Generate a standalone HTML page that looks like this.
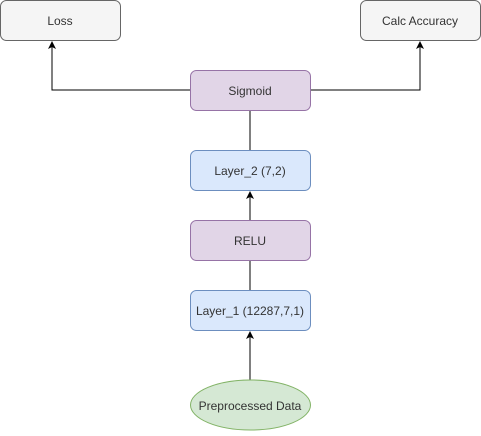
<!DOCTYPE html>
<html><head><style>body{margin:0;background:#fff}</style></head><body>
<svg width="481" height="431" xmlns="http://www.w3.org/2000/svg" font-family="Liberation Sans, sans-serif" font-size="12" text-anchor="middle">
<defs><marker id="a" markerWidth="8" markerHeight="8" refX="7" refY="4" orient="auto" markerUnits="userSpaceOnUse"><path d="M0,0 L8,4 L0,8 L2,4 z" fill="#000"/></marker></defs>
<g stroke="#000" fill="none" stroke-width="1">
<path d="M190 90 H52 V42" marker-end="url(#a)"/>
<path d="M310 90 H420 V42" marker-end="url(#a)"/>
<path d="M250 150 V110"/>
<path d="M250 220 V192" marker-end="url(#a)"/>
<path d="M250 290 V260"/>
<path d="M250 380 V332" marker-end="url(#a)"/>
</g>
<rect x="0.5" y="0.5" width="120" height="40" rx="6" fill="#f5f5f5" stroke="#666"/>
<rect x="360.5" y="0.5" width="120" height="40" rx="6" fill="#f5f5f5" stroke="#666"/>
<rect x="190.5" y="70.5" width="120" height="40" rx="6" fill="#e1d5e7" stroke="#9673a6"/>
<rect x="190.5" y="150.5" width="120" height="40" rx="6" fill="#dae8fc" stroke="#6c8ebf"/>
<rect x="190.5" y="220.5" width="120" height="40" rx="6" fill="#e1d5e7" stroke="#9673a6"/>
<rect x="190.5" y="290.5" width="120" height="40" rx="6" fill="#dae8fc" stroke="#6c8ebf"/>
<ellipse cx="250.5" cy="405" rx="60" ry="25" fill="#d5e8d4" stroke="#82b366"/>
<g fill="#333">
<text x="60" y="25">Loss</text>
<text x="420" y="25">Calc Accuracy</text>
<text x="250" y="95">Sigmoid</text>
<text x="250" y="175">Layer_2 (7,2)</text>
<text x="250" y="245">RELU</text>
<text x="250" y="315">Layer_1 (12287,7,1)</text>
<text x="250" y="410">Preprocessed Data</text>
</g>
</svg>
</body></html>
